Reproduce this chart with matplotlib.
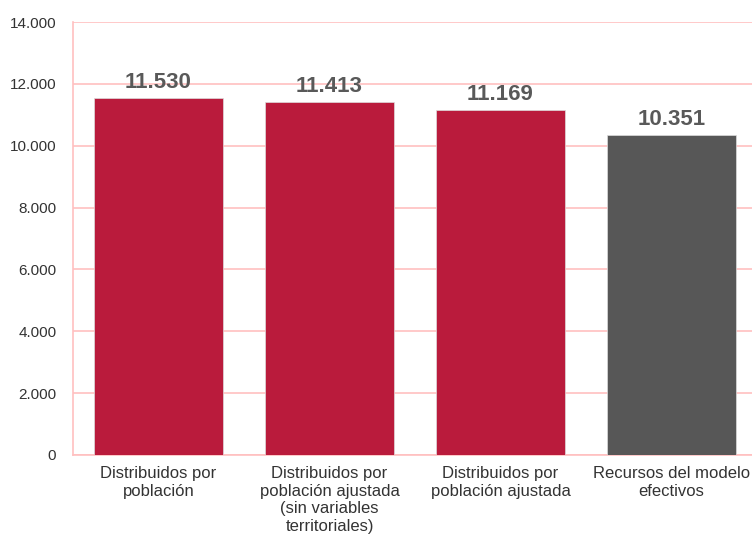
import matplotlib.pyplot as plt
from matplotlib.ticker import FuncFormatter

categories = ["Distribuidos por\npoblación",
              "Distribuidos por\npoblación ajustada\n(sin variables\nterritoriales)",
              "Distribuidos por\npoblación ajustada",
              "Recursos del modelo\nefectivos"]
values = [11530, 11413, 11169, 10351]
colors = ["#BA1B3C", "#BA1B3C", "#BA1B3C", "#575757"]

plt.rcParams['font.family'] = ['Liberation Sans', 'DejaVu Sans']

fig = plt.figure(figsize=(7.52, 5.36), dpi=100)
ax = fig.add_axes([73 / 752, 81 / 536, 684 / 752, 433 / 536])

x = range(len(values))
bars = ax.bar(x, values, width=0.75, color=colors, edgecolor="#dddddd", linewidth=0.5, zorder=3)

for xi, v in zip(x, values):
    ax.text(xi, v + 160, f"{v:,}".replace(",", "."), ha="center", va="bottom",
            fontsize=16, fontweight="bold", color="#595959")

ax.set_xlim(-0.5, 3.5)
ax.set_ylim(0, 14000)
ax.set_yticks(range(0, 14001, 2000))
ax.yaxis.set_major_formatter(FuncFormatter(lambda v, p: f"{int(v):,}".replace(",", ".")))
ax.set_xticks(list(x))
ax.set_xticklabels(categories, fontsize=12, color="#333333", linespacing=1.22)
ax.tick_params(axis="y", labelsize=11, labelcolor="#333333", length=0, pad=12)
ax.tick_params(axis="x", length=0, pad=8)

ax.grid(axis="y", color="#FFC0C0", linewidth=1.2, zorder=0)
for side in ["top", "right"]:
    ax.spines[side].set_visible(False)
for side in ["left", "bottom"]:
    ax.spines[side].set_color("#FFC0C0")
    ax.spines[side].set_linewidth(1.2)

fig.savefig("out.png", dpi=100)
